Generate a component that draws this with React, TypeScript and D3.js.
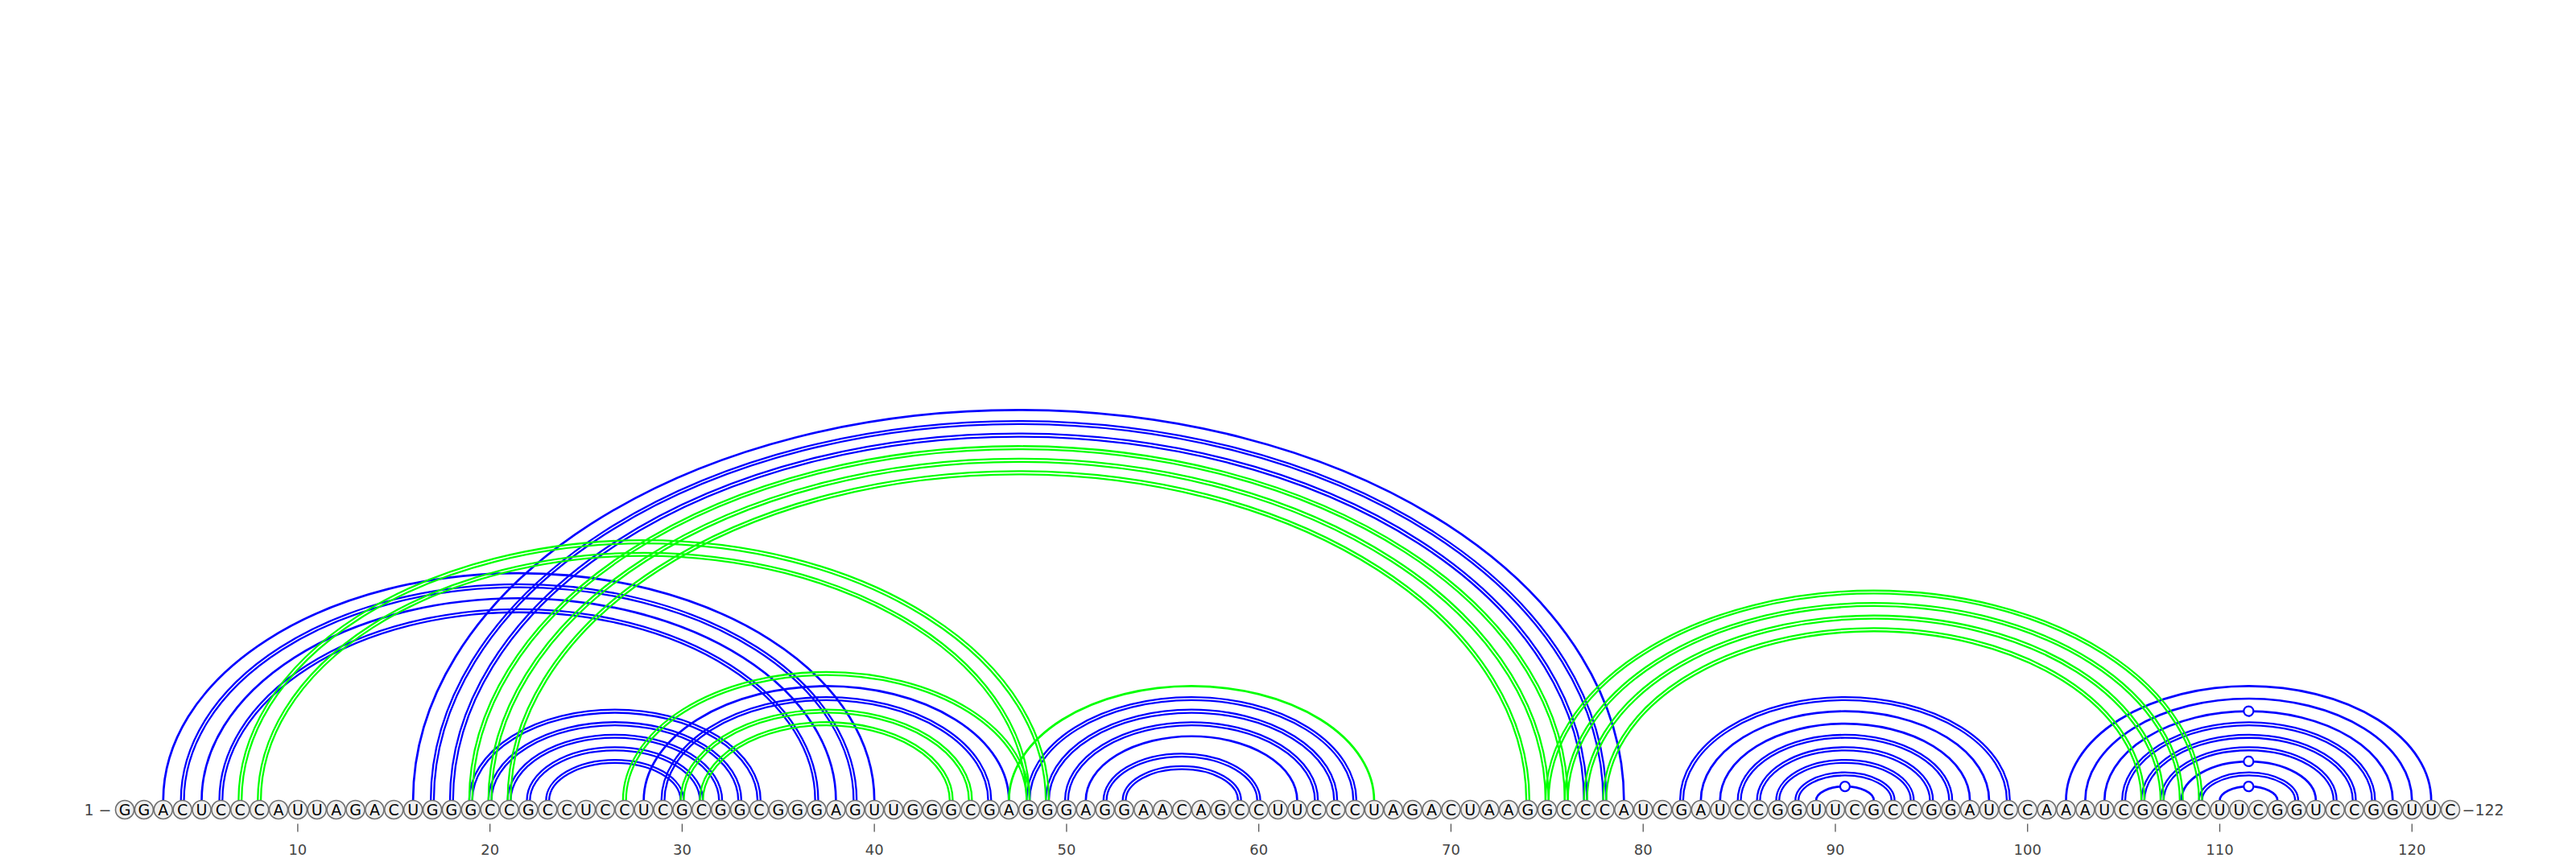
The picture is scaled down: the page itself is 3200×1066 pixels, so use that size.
import { useEffect, useRef } from 'react';
import * as d3 from 'd3';

// primary sequence, 5' -> 3', written in blocks of ten
const SEQUENCE_BLOCKS = [
  'GGACUCCCAU', 'UAGACUGGGC', 'CGCCUCCUCG', 'CGGCGGGAGU', 'UGGGCGAGGG', 'AGGAACAGCC',
  'UUCCCUAGAC', 'UAAGGCCCAU', 'CGAUCCGGUU', 'CGCCGGAUCC', 'AAAUCGGGCU', 'UCGGUCCGGU', 'UC',
];
const SEQUENCE = SEQUENCE_BLOCKS.join('').split('');

// base pairs (1-based positions) of the blue structure
const BLUE_PAIRS: [number, number][] = [
  [3, 40], [4, 39], [5, 38], [6, 37],
  [16, 79], [17, 78], [18, 77],
  [19, 34], [20, 33], [21, 32], [22, 31], [23, 30],
  [28, 47], [29, 46],
  [48, 65], [49, 64], [50, 63], [51, 62], [52, 60], [53, 59],
  [82, 99], [83, 98], [84, 97], [85, 96], [86, 95], [87, 94], [88, 93], [89, 92],
  [102, 121], [103, 120], [104, 119], [105, 118], [106, 117], [107, 116], [108, 115], [109, 114], [110, 113],
];

// base pairs of the green structure
const GREEN_PAIRS: [number, number][] = [
  [7, 49], [8, 48],
  [19, 76], [20, 75], [21, 74],
  [27, 48], [30, 45], [31, 44],
  [47, 66],
  [75, 109], [76, 108], [77, 107], [78, 106],
];

const TICKS = [10, 20, 30, 40, 50, 60, 70, 80, 90, 100, 110, 120];

const WIDTH = 3200;
const HEIGHT = 1066;

type Kind = 'gc' | 'au' | 'gu';

function pairKind(a: string, b: string): Kind {
  const s = [a, b].sort().join('');
  if (s === 'CG') return 'gc';
  if (s === 'GU') return 'gu';
  return 'au';
}

export default function App() {
  const svgRef = useRef<SVGSVGElement>(null);

  useEffect(() => {
    if (!svgRef.current) return;
    document.body.style.margin = '0';

    const svg = d3.select(svgRef.current);
    svg.selectAll('*').remove();

    const n = SEQUENCE.length;
    const x = d3.scaleLinear().domain([1, n]).range([155, 3044]);
    const baseY = 1006;
    const r = 11.5;
    const arcBase = baseY - r; // arcs leave from the top of each nucleotide
    // arcs are flattened: apex height as a function of half-span in px
    const heightOf = d3.scaleLinear().domain([0, 1000]).range([-6, 647]);

    const arcPath = (x1: number, x2: number, rx: number, ry: number) =>
      `M${x1},${arcBase} A${rx},${ry} 0 0 1 ${x2},${arcBase}`;

    const drawPairs = (pairs: [number, number][], color: string) => {
      const g = svg.append('g').attr('fill', 'none').attr('stroke', color);
      pairs.forEach(([i, j]) => {
        const x1 = x(i);
        const x2 = x(j);
        const rx = (x2 - x1) / 2;
        const ry = heightOf(rx);
        const kind = pairKind(SEQUENCE[i - 1], SEQUENCE[j - 1]);
        if (kind === 'gc') {
          // G-C pairs: two parallel strokes
          const d = 1.9;
          g.append('path').attr('d', arcPath(x1 - d, x2 + d, rx + d, ry + d)).attr('stroke-width', 2.3);
          g.append('path').attr('d', arcPath(x1 + d, x2 - d, rx - d, ry - d)).attr('stroke-width', 2.3);
        } else {
          g.append('path').attr('d', arcPath(x1, x2, rx, ry)).attr('stroke-width', 2.7);
          if (kind === 'gu') {
            g.append('circle')
              .attr('cx', (x1 + x2) / 2)
              .attr('cy', arcBase - ry)
              .attr('r', 6)
              .attr('fill', '#fff')
              .attr('stroke-width', 2.2);
          }
        }
      });
    };

    drawPairs(BLUE_PAIRS, '#0000ff');
    drawPairs(GREEN_PAIRS, '#00ff00');

    // nucleotides
    const nt = svg.append('g').selectAll('g')
      .data(SEQUENCE.map((b, k) => ({ b, pos: k + 1 })))
      .enter().append('g')
      .attr('transform', (d) => `translate(${x(d.pos)},${baseY})`);

    nt.append('circle')
      .attr('r', r)
      .attr('fill', '#f0f0f0')
      .attr('stroke', '#6e6e6e')
      .attr('stroke-width', 1.6);

    nt.append('text')
      .text((d) => d.b)
      .attr('text-anchor', 'middle')
      .attr('dy', '0.36em')
      .attr('font-family', 'DejaVu Sans, sans-serif')
      .attr('font-size', 19)
      .attr('fill', '#000');

    // 5' / 3' end labels
    svg.append('text')
      .text('1 \u2212')
      .attr('x', x(1) - r - 5)
      .attr('y', baseY)
      .attr('dy', '0.36em')
      .attr('text-anchor', 'end')
      .attr('font-family', 'DejaVu Sans, sans-serif')
      .attr('font-size', 19)
      .attr('fill', '#444');

    svg.append('text')
      .text(`\u2212${n}`)
      .attr('x', x(n) + r + 3)
      .attr('y', baseY)
      .attr('dy', '0.36em')
      .attr('text-anchor', 'start')
      .attr('font-family', 'DejaVu Sans, sans-serif')
      .attr('font-size', 19)
      .attr('fill', '#444');

    // position ticks under the sequence
    const axis = svg.append('g');
    axis.selectAll('line')
      .data(TICKS)
      .enter().append('line')
      .attr('x1', (d) => x(d))
      .attr('x2', (d) => x(d))
      .attr('y1', baseY + r + 6)
      .attr('y2', baseY + r + 16)
      .attr('stroke', '#555')
      .attr('stroke-width', 1.3);

    axis.selectAll('text')
      .data(TICKS)
      .enter().append('text')
      .text((d) => d)
      .attr('x', (d) => x(d))
      .attr('y', baseY + r + 44)
      .attr('text-anchor', 'middle')
      .attr('font-family', 'DejaVu Sans, sans-serif')
      .attr('font-size', 18)
      .attr('fill', '#444');
  }, []);

  return (
    <svg
      ref={svgRef}
      width={WIDTH}
      height={HEIGHT}
      style={{ position: 'absolute', left: 0, top: 0, background: '#fff', display: 'block' }}
    />
  );
}
